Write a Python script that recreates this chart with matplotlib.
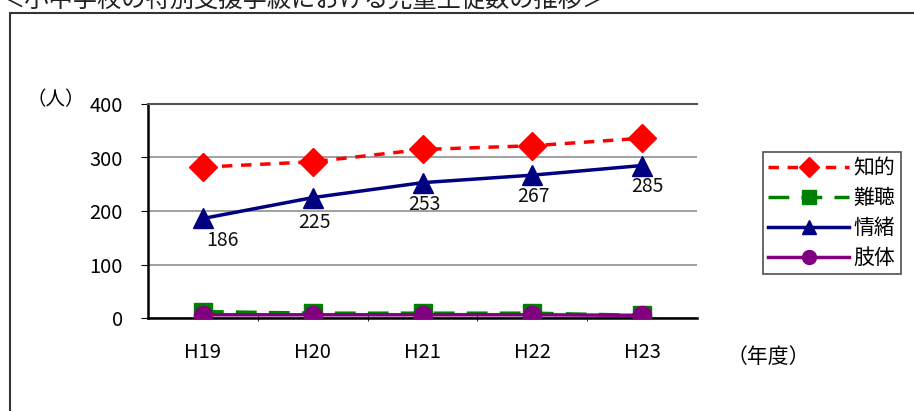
import matplotlib
matplotlib.use("Agg")
import matplotlib.pyplot as plt
from matplotlib.patches import Rectangle

plt.rcParams['font.family'] = ['Noto Sans CJK JP', 'DejaVu Sans']

title = "＜小中学校の特別支援学級における児童生徒数の推移＞"
years = ["H19", "H20", "H21", "H22", "H23"]
chiteki = [282, 292, 315, 322, 336]
nancho = [12, 9, 9, 9, 5]
jocho = [186, 225, 253, 267, 285]
shitai = [6, 6, 6, 6, 5]
series_names = ["知的", "難聴", "情緒", "肢体"]
yticks = [0, 100, 200, 300, 400]

fig = plt.figure(figsize=(9.14, 4.11), dpi=100)
W, H = 914, 411

# outer frame
fig.patches.append(Rectangle((10 / W, -0.1), 1.2, 1 - 13 / H + 0.1, transform=fig.transFigure,
                             fill=False, edgecolor='#333333', linewidth=1.5))
fig.text(0.0, 1 - 0 / H, title, fontsize=17.5, ha='left', va='center', color='#222222')

ax = fig.add_axes([148 / W, 1 - 318 / H, (697 - 148) / W, (318 - 104) / H])
x = list(range(len(years)))

ax.plot(x, chiteki, color='#ff0000', linestyle=(0, (3, 2.5)), linewidth=2.5, marker='D',
        markersize=14, label=series_names[0], zorder=4)
ax.plot(x, nancho, color='#008000', linestyle=(0, (6, 3.5)), linewidth=2.5, marker='s',
        markersize=13, label=series_names[1], zorder=3)
ax.plot(x, jocho, color='#000080', linestyle='-', linewidth=2.5, marker='^',
        markersize=15, label=series_names[2], zorder=4)
ax.plot(x, shitai, color='#800080', linestyle='-', linewidth=2.5, marker='o',
        markersize=13, label=series_names[3], zorder=5)

offsets = [(20, -22), (2, -25), (2, -22), (1, -21), (5, -21)]
for i, v in enumerate(jocho):
    dx, dy = offsets[i]
    ax.annotate(str(v), (i, v), xytext=(dx * 0.72, dy * 0.72), textcoords='offset points',
                ha='center', va='center', fontsize=14, color='#111111')

ax.set_xlim(-0.5, 4.5)
ax.set_ylim(0, 400)
ax.set_yticks(yticks)
ax.set_yticklabels([str(t) for t in yticks], fontsize=14.5)
ax.set_xticks(x)
ax.set_xticklabels(years, fontsize=14.5)
ax.set_xticks([0.5 + i for i in range(4)], minor=True)
ax.tick_params(axis='x', which='major', length=0, pad=17)
ax.tick_params(axis='x', which='minor', length=5, direction='inout')
ax.tick_params(axis='y', length=5, direction='out', pad=13)
ax.grid(axis='y', color='#909090', linewidth=1.2)
ax.set_axisbelow(True)
ax.spines['right'].set_visible(False)
ax.spines['left'].set_linewidth(1.8)
ax.spines['bottom'].set_linewidth(1.8)
ax.spines['top'].set_color('#555555')
ax.spines['top'].set_linewidth(1.5)

fig.text(85 / W, 1 - 100 / H, "（人）", fontsize=14, ha='right', va='center')
fig.text(768 / W, 1 - 357 / H, "（年度）", fontsize=15, ha='center', va='center')

leg = fig.legend(loc='upper left', bbox_to_anchor=(763 / W, 1 - 152 / H), fontsize=15,
                 frameon=True, fancybox=False, edgecolor='#222222', handlelength=3.9,
                 borderpad=0.25, labelspacing=0.38, handletextpad=0.2, borderaxespad=0)
leg.get_frame().set_linewidth(1.2)
for h in leg.legend_handles:
    h.set_markersize(10)

fig.savefig("out.png", dpi=100)
